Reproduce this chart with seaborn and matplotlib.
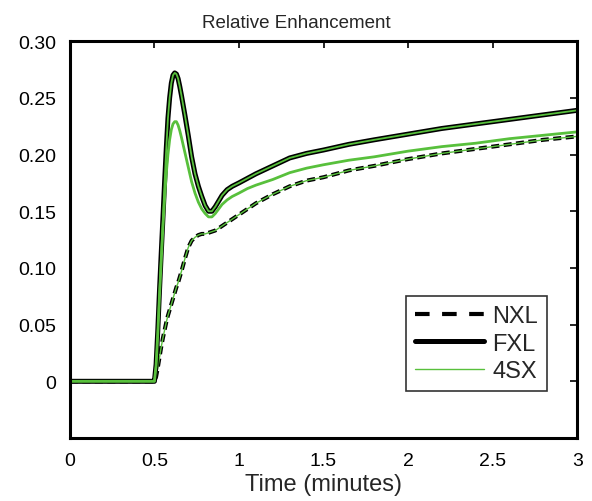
import numpy as np
import pandas as pd
import seaborn as sns
from matplotlib import pyplot as plt
from matplotlib.lines import Line2D

# 時間 (分)
time = [0.0, 0.49, 0.50, 0.51, 0.52, 0.53, 0.54, 0.55, 0.56, 0.57, 0.58, 0.59,
        0.60, 0.61, 0.62, 0.63, 0.64, 0.65, 0.66, 0.68, 0.70, 0.72, 0.74, 0.76,
        0.78, 0.80, 0.82, 0.84, 0.86, 0.88, 0.90, 0.93, 0.96, 1.0, 1.05, 1.1,
        1.2, 1.3, 1.4, 1.5, 1.65, 1.8, 2.0, 2.2, 2.4, 2.6, 2.8, 3.0]

nxl = [0.0, 0.0, 0.0, 0.004, 0.012, 0.021, 0.030, 0.038, 0.045, 0.052, 0.058, 0.063,
       0.068, 0.073, 0.078, 0.083, 0.087, 0.092, 0.097, 0.108, 0.118, 0.124, 0.127, 0.129,
       0.130, 0.130, 0.131, 0.132, 0.133, 0.135, 0.137, 0.140, 0.143, 0.147, 0.152, 0.157,
       0.165, 0.172, 0.177, 0.180, 0.186, 0.190, 0.196, 0.201, 0.205, 0.209, 0.213, 0.216]

fxl = [0.0, 0.0, 0.0, 0.015, 0.045, 0.080, 0.112, 0.143, 0.175, 0.205, 0.232, 0.250,
       0.263, 0.270, 0.272, 0.271, 0.267, 0.260, 0.252, 0.235, 0.217, 0.198, 0.183, 0.172,
       0.163, 0.155, 0.150, 0.150, 0.154, 0.159, 0.164, 0.169, 0.172, 0.175, 0.179, 0.183,
       0.190, 0.197, 0.201, 0.204, 0.209, 0.213, 0.218, 0.223, 0.227, 0.231, 0.235, 0.239]

sx4 = [0.0, 0.0, 0.0, 0.014, 0.042, 0.075, 0.105, 0.135, 0.160, 0.183, 0.200, 0.213,
       0.222, 0.227, 0.229, 0.229, 0.226, 0.221, 0.215, 0.202, 0.189, 0.176, 0.166, 0.158,
       0.152, 0.148, 0.145, 0.145, 0.148, 0.152, 0.156, 0.160, 0.163, 0.166, 0.170, 0.173,
       0.178, 0.184, 0.188, 0.191, 0.195, 0.198, 0.203, 0.207, 0.210, 0.214, 0.217, 0.220]

df = pd.DataFrame({"time": time, "NXL": nxl, "FXL": fxl, "4SX": sx4})

sns.set_style("white")
plt.rcParams["font.family"] = ["Liberation Sans", "DejaVu Sans"]

green = "#58c03c"

fig = plt.figure(figsize=(5.92, 5.02), dpi=100)
ax = fig.add_axes([0.118, 0.1255, 0.857, 0.7905])

# NXL: 黒の破線 + 緑の細線
sns.lineplot(data=df, x="time", y="NXL", ax=ax, color="black", linewidth=2.9,
             dashes=False, linestyle=(0, (2.0, 1.1)))
sns.lineplot(data=df, x="time", y="NXL", ax=ax, color=green, linewidth=1.0)
# FXL: 黒の太線 + 緑の細線
sns.lineplot(data=df, x="time", y="FXL", ax=ax, color="black", linewidth=3.6)
sns.lineplot(data=df, x="time", y="FXL", ax=ax, color=green, linewidth=1.3)
# 4SX
sns.lineplot(data=df, x="time", y="4SX", ax=ax, color=green, linewidth=2.0)

ax.set_xlim(0, 3)
ax.set_ylim(-0.05, 0.30)
ax.set_xticks([0, 0.5, 1, 1.5, 2, 2.5, 3])
ax.set_xticklabels(["0", "0.5", "1", "1.5", "2", "2.5", "3"])
ax.set_yticks([0, 0.05, 0.10, 0.15, 0.20, 0.25, 0.30])
ax.set_yticklabels(["0", "0.05", "0.10", "0.15", "0.20", "0.25", "0.30"])
ax.tick_params(direction="in", length=5, width=1.2, top=True, right=True,
               labelsize=14, colors="black")
ax.tick_params(axis="x", pad=10)
ax.tick_params(axis="y", pad=10)
for s in ax.spines.values():
    s.set_linewidth(2.2)
    s.set_color("black")

ax.set_title("Relative Enhancement", fontsize=13.5, x=0.446, pad=10)
ax.set_xlabel("Time (minutes)", fontsize=17, labelpad=3)
ax.set_ylabel("")

handles = [
    Line2D([], [], color="black", linewidth=3.0, linestyle=(0, (3.5, 3.0))),
    Line2D([], [], color="black", linewidth=3.6),
    Line2D([], [], color=green, linewidth=1.0),
]
leg = ax.legend(handles, ["NXL", "FXL", "4SX"], loc="upper right",
                bbox_to_anchor=(0.941, 0.358), fontsize=17, frameon=True,
                fancybox=False, edgecolor="black", handlelength=2.9,
                handletextpad=0.35, borderpad=0.4, labelspacing=0.22,
                borderaxespad=0)
leg.get_frame().set_linewidth(1.2)

plt.savefig("out.png", dpi=100)
